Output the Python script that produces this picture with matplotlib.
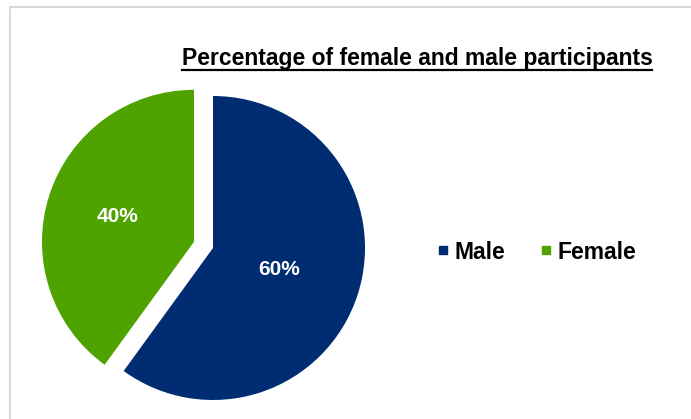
import numpy as np
import matplotlib.pyplot as plt
from matplotlib.patches import Rectangle
from matplotlib.lines import Line2D

# datos
labels = ['Male', 'Female']
values = [60, 40]
colors = ['#002D72', '#4EA300']

plt.rcParams['font.family'] = ['Liberation Sans', 'DejaVu Sans']

fig = plt.figure(figsize=(6.91, 4.19), dpi=100)
ax = fig.add_axes([0, 0, 1, 1])
ax.axis('off')

# pie (centro y radio en pixeles)
R = 152
wedges, texts, autotexts = ax.pie(values, colors=colors, explode=[0, 20],
                                  startangle=90, counterclock=False,
                                  center=(213, 171), radius=R,
                                  autopct='%1.0f%%', pctdistance=0.5,
                                  textprops=dict(color='white', fontsize=15,
                                                 fontweight='bold'))
# distancia de etiquetas por porcion
for w, t, d in zip(wedges, autotexts, [0.46, 0.53]):
    ang = np.deg2rad((w.theta1 + w.theta2) / 2)
    cx, cy = w.center
    t.set_position((cx + d * R * np.cos(ang), cy + d * R * np.sin(ang)))

ax.set_xlim(0, 691)
ax.set_ylim(0, 419)
ax.set_aspect('equal')

# titulo subrayado
title = fig.text(417 / 691, 1 - 59 / 419, 'Percentage of female and male participants',
                 ha='center', va='center', fontsize=16.5, fontweight='bold')
fig.canvas.draw()
bb = title.get_window_extent().transformed(fig.transFigure.inverted())
fig.add_artist(Line2D([bb.x0, bb.x1], [bb.y0 + 0.002, bb.y0 + 0.002],
                      transform=fig.transFigure, color='black', lw=1.6))

# leyenda
handles = [Line2D([], [], marker='s', linestyle='', markersize=6,
                  color=c) for c in colors]
fig.legend(handles, labels, loc='center', bbox_to_anchor=(535 / 691, 1 - 252 / 419),
           ncol=2, frameon=False, handletextpad=0.1, columnspacing=1.35,
           handlelength=0.8, prop=dict(size=16.5, weight='bold'))

# borde del grafico
fig.add_artist(Rectangle((10 / 691, -0.1), 2, (419 - 7) / 419 + 0.1,
                         transform=fig.transFigure, fill=False,
                         edgecolor='#D9D9D9', lw=1.5))

fig.savefig('out.png', dpi=100)
